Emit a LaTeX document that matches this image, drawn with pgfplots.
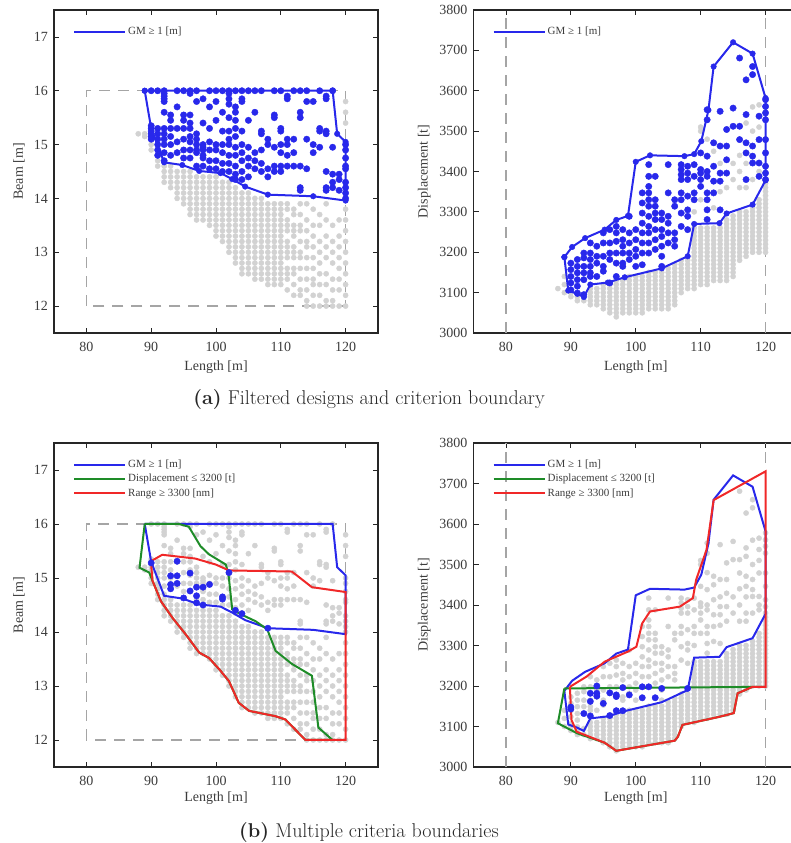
\documentclass[border=0pt]{standalone}
\usepackage{pgfplots}
\pgfplotsset{compat=1.18}
\usepackage{pgfplotstable}
\usepackage{fontspec}
\newfontfamily\tnr{Liberation Serif}
\definecolor{gm}{RGB}{40,40,235}
\definecolor{dispc}{RGB}{30,140,40}
\definecolor{rangec}{RGB}{240,40,40}
\definecolor{ptgray}{RGB}{210,210,210}
\definecolor{dashgray}{RGB}{165,165,165}
\definecolor{txt}{RGB}{60,60,60}

% ---------- Length / Beam ----------
\pgfplotstableread[row sep=\\]{L B\\
90 16\\90 15.35\\90 15.3\\90 15.25\\90 15.2\\90 15.15\\90 15.1\\
91 16\\91 15.3\\91 15.2\\91 15.1\\91 15.0\\91 14.9\\91 14.8\\
92 16\\92 15.95\\92 15.9\\92 15.85\\92 15.8\\92 15.6\\92 15.3\\92 15.2\\92 15.1\\92 15.0\\92 14.85\\92 14.7\\
93 15.55\\93 15.45\\93 15.3\\93 15.15\\93 15.0\\93 14.8\\
94 16\\94 15.7\\94 15.3\\94 15.05\\94 14.85\\
95 16\\95 15.55\\95 15.45\\95 15.3\\95 15.1\\95 14.9\\95 14.75\\
96 16\\96 15.95\\96 15.55\\96 15.4\\96 15.3\\96 15.15\\96 15.05\\96 14.9\\96 14.75\\
97 16\\97 15.8\\97 15.2\\97 15.1\\97 15.0\\97 14.9\\97 14.85\\97 14.6\\
98 15.85\\98 15.4\\98 15.0\\98 14.95\\98 14.9\\98 14.8\\98 14.75\\98 14.6\\
99 16\\99 15.7\\99 15.3\\99 15.05\\99 14.9\\99 14.7\\99 14.55\\
100 16\\100 15.8\\100 15.45\\100 15.0\\100 14.9\\100 14.7\\100 14.55\\
101 16\\101 15.6\\101 15.25\\101 15.0\\101 14.85\\101 14.65\\101 14.5\\
102 16\\102 15.95\\102 15.85\\102 15.75\\102 15.5\\102 15.25\\102 15.1\\102 15.0\\102 14.8\\102 14.65\\102 14.5\\
103 16\\103 15.7\\103 15.6\\103 15.45\\103 15.3\\103 15.15\\103 14.95\\103 14.8\\103 14.6\\103 14.45\\103 14.35\\
104 16\\104 15.85\\104 15.8\\104 15.25\\104 15.0\\104 14.85\\104 14.7\\104 14.5\\104 14.35\\
105 16\\105 15.45\\105 14.95\\105 14.75\\105 14.6\\105 14.4\\
106 16\\106 15.6\\106 14.85\\106 14.7\\106 14.55\\
107 16\\107 15.25\\107 15.2\\107 14.9\\107 14.65\\107 14.5\\
108 15.1\\108 15.0\\108 14.55\\108 14.4\\
109 16\\109 15.55\\109 15.5\\109 14.95\\109 14.6\\109 14.5\\
110 16\\110 15.3\\110 15.25\\110 15.0\\110 14.85\\110 14.6\\110 14.5\\
111 15.9\\111 15.85\\111 15.1\\111 15.0\\111 14.8\\111 14.6\\
112 16\\112 15.1\\112 14.85\\112 14.6\\
113 16\\113 15.6\\113 15.5\\113 14.6\\113 14.2\\113 14.15\\
114 16\\114 15.8\\114 15.1\\114 14.55\\
115 15.8\\115 15.0\\115 14.85\\
116 16\\116 15.3\\116 15.25\\116 14.95\\
117 15.9\\117 15.85\\117 15.25\\117 15.2\\117 14.5\\117 14.2\\117 14.15\\
118 16\\118 14.95\\118 14.45\\118 14.3\\118 14.2\\
119 14.45\\119 14.35\\119 14.15\\
120 15.0\\120 14.9\\120 14.75\\120 14.6\\120 14.55\\120 14.3\\120 14.2\\120 14.1\\120 14.0\\
}\tlblue

\pgfplotstableread[row sep=\\]{L B\\
88 15.2\\89 15.2\\89 15.15\\90 15.0\\90 14.9\\91 14.7\\91 14.6\\
92 14.6\\92 14.5\\92 14.4\\92 14.3\\
93 14.6\\93 14.5\\93 14.4\\93 14.3\\93 14.2\\
94 14.5\\94 14.4\\94 14.3\\94 14.2\\94 14.1\\94 14.0\\
95 14.5\\95 14.4\\95 14.3\\95 14.2\\95 14.1\\95 14.0\\95 13.9\\
96 14.5\\96 14.4\\96 14.3\\96 14.2\\96 14.1\\96 14.0\\96 13.9\\96 13.8\\96 13.7\\
97 14.4\\97 14.3\\97 14.2\\97 14.1\\97 14.0\\97 13.9\\97 13.8\\97 13.7\\97 13.6\\
98 14.4\\98 14.3\\98 14.2\\98 14.1\\98 14.0\\98 13.9\\98 13.8\\98 13.7\\98 13.6\\
99 14.4\\99 14.3\\99 14.2\\99 14.1\\99 14.0\\99 13.9\\99 13.8\\99 13.7\\99 13.6\\99 13.5\\
100 14.4\\100 14.3\\100 14.2\\100 14.1\\100 14.0\\100 13.9\\100 13.8\\100 13.7\\100 13.6\\100 13.5\\100 13.4\\100 13.3\\
101 14.3\\101 14.2\\101 14.1\\101 14.0\\101 13.9\\101 13.8\\101 13.7\\101 13.6\\101 13.5\\101 13.4\\101 13.3\\101 13.2\\
102 14.3\\102 14.2\\102 14.1\\102 14.0\\102 13.9\\102 13.8\\102 13.7\\102 13.6\\102 13.5\\102 13.4\\102 13.3\\102 13.2\\102 13.1\\102 13.0\\
103 14.2\\103 14.1\\103 14.0\\103 13.9\\103 13.8\\103 13.7\\103 13.6\\103 13.5\\103 13.4\\103 13.3\\103 13.2\\103 13.1\\103 13.0\\103 12.9\\103 12.8\\
104 14.1\\104 14.0\\104 13.9\\104 13.8\\104 13.7\\104 13.6\\104 13.5\\104 13.4\\104 13.3\\104 13.2\\104 13.1\\104 13.0\\104 12.9\\104 12.8\\104 12.7\\104 12.6\\
105 14.1\\105 14.0\\105 13.9\\105 13.8\\105 13.7\\105 13.6\\105 13.5\\105 13.4\\105 13.3\\105 13.2\\105 13.1\\105 13.0\\105 12.9\\105 12.8\\105 12.7\\105 12.6\\
106 14.0\\106 13.9\\106 13.8\\106 13.7\\106 13.6\\106 13.5\\106 13.4\\106 13.3\\106 13.2\\106 13.1\\106 13.0\\106 12.9\\106 12.8\\106 12.7\\106 12.6\\106 12.5\\
107 14.0\\107 13.9\\107 13.8\\107 13.7\\107 13.6\\107 13.5\\107 13.4\\107 13.3\\107 13.2\\107 13.1\\107 13.0\\107 12.9\\107 12.8\\107 12.7\\107 12.6\\107 12.5\\
108 13.9\\108 13.8\\108 13.7\\108 13.6\\108 13.5\\108 13.4\\108 13.3\\108 13.2\\108 13.1\\108 13.0\\108 12.9\\108 12.8\\108 12.7\\108 12.6\\108 12.5\\108 12.4\\
109 13.9\\109 13.8\\109 13.7\\109 13.6\\109 13.5\\109 13.4\\109 13.3\\109 13.2\\109 13.1\\109 13.0\\109 12.9\\109 12.8\\109 12.7\\109 12.6\\109 12.5\\109 12.4\\
110 13.9\\110 13.8\\110 13.7\\110 13.6\\110 13.5\\110 13.4\\110 13.3\\110 13.2\\110 13.1\\110 13.0\\110 12.9\\110 12.8\\110 12.7\\110 12.6\\110 12.5\\110 12.4\\
111 13.9\\111 13.8\\111 13.6\\111 13.5\\111 13.4\\111 13.2\\111 13.1\\111 13.0\\111 12.9\\111 12.7\\111 12.6\\111 12.5\\111 12.3\\
112 13.8\\112 13.7\\112 13.5\\112 13.4\\112 13.3\\112 13.1\\112 13.0\\112 12.9\\112 12.7\\112 12.6\\112 12.4\\112 12.2\\
113 13.9\\113 13.7\\113 13.5\\113 13.4\\113 13.2\\113 13.0\\113 12.9\\113 12.7\\113 12.5\\113 12.3\\113 12.2\\
114 13.9\\114 13.6\\114 13.4\\114 13.2\\114 13.1\\114 12.9\\114 12.7\\114 12.5\\114 12.3\\114 12.1\\114 12.0\\
115 13.8\\115 13.5\\115 13.3\\115 13.1\\115 12.9\\115 12.7\\115 12.5\\115 12.4\\115 12.2\\115 12.0\\
116 13.7\\116 13.5\\116 13.2\\116 13.0\\116 12.8\\116 12.6\\116 12.4\\116 12.2\\116 12.0\\
117 13.9\\117 13.6\\117 13.3\\117 13.1\\117 12.9\\117 12.6\\117 12.4\\117 12.1\\117 12.0\\
118 13.5\\118 13.2\\118 13.0\\118 12.8\\118 12.5\\118 12.3\\118 12.1\\118 12.0\\
119 13.6\\119 13.3\\119 13.1\\119 12.9\\119 12.7\\119 12.5\\119 12.3\\119 12.0\\
120 15.8\\120 15.6\\120 15.4\\120 13.8\\120 13.6\\120 13.4\\120 13.2\\120 13.0\\120 12.8\\120 12.6\\120 12.4\\120 12.2\\120 12.0\\
}\tlgray

\pgfplotstableread[row sep=\\]{L B\\
90 15.28\\94 15.31\\93 15.04\\94 15.04\\96 15.09\\93 14.88\\94 14.9\\93 14.8\\96 14.76\\97 14.83\\98 14.83\\99 14.88\\97 14.67\\95 14.63\\97 14.54\\98 14.5\\101 14.65\\101 14.61\\102 15.1\\103 14.4\\104 14.34\\108 14.07\\
}\blblue

\pgfplotstableread[row sep=\\]{L B\\
89 16\\118 16\\118.7 15.2\\120 15.05\\120 13.96\\115 14.04\\108 14.07\\104.5 14.22\\102.5 14.36\\100.7 14.47\\97.4 14.51\\94.8 14.62\\92 14.67\\90 15.3\\89 16\\
}\gmLB

\pgfplotstableread[row sep=\\]{L B\\
89 16\\94.3 16\\95.8 15.95\\97.6 15.59\\98.9 15.44\\101.5 15.25\\101.9 15.1\\102.5 14.42\\103.8 14.33\\106.1 14.2\\107.9 14.05\\109.2 13.65\\111.7 13.41\\114.8 13.19\\115.8 12.23\\117.6 12.04\\118 12\\113.8 12\\110.7 12.38\\109.2 12.44\\105.1 12.54\\103.5 12.69\\102 13.09\\100.5 13.31\\98.9 13.52\\97.4 13.62\\95.3 13.96\\93.3 14.26\\91.5 14.57\\90.2 14.95\\89.7 15.1\\88.2 15.19\\89 16\\
}\dispLB

\pgfplotstableread[row sep=\\]{L B\\
89.95 15.31\\91.7 15.43\\96.8 15.36\\99.95 15.25\\102 15.14\\111.7 15.12\\114.8 14.83\\120 14.74\\120 12\\113.8 12\\110.7 12.38\\109.2 12.44\\105.1 12.54\\103.5 12.69\\102 13.09\\100.5 13.31\\98.9 13.52\\97.4 13.62\\95.3 13.96\\93.3 14.26\\91.5 14.57\\90.2 14.95\\89.95 15.31\\
}\rangeLB

% ---------- Length / Displacement ----------
\pgfplotstableread[row sep=\\]{L D\\
90 3173\\90 3157\\90 3140\\90 3124\\90 3107\\
91 3182\\91 3165\\91 3149\\91 3132\\91 3116\\91 3099\\
92 3198\\92 3186\\92 3165\\92 3149\\92 3132\\92 3095\\
93 3223\\93 3198\\93 3182\\93 3165\\93 3149\\93 3140\\
94 3215\\94 3190\\94 3173\\94 3140\\
95 3248\\95 3223\\95 3190\\95 3165\\95 3153\\
96 3256\\96 3223\\96 3198\\96 3182\\96 3124\\
97 3264\\97 3248\\97 3227\\97 3198\\97 3173\\97 3140\\
98 3256\\98 3231\\98 3215\\98 3198\\98 3173\\98 3165\\
99 3289\\99 3248\\99 3223\\99 3198\\99 3182\\
100 3256\\100 3231\\100 3207\\100 3190\\100 3165\\
101 3347\\101 3322\\101 3297\\101 3272\\101 3248\\101 3223\\101 3198\\101 3169\\
102 3417\\102 3388\\102 3363\\102 3347\\102 3330\\102 3314\\102 3289\\102 3264\\102 3248\\102 3223\\102 3198\\
103 3388\\103 3330\\103 3314\\103 3297\\103 3281\\103 3256\\103 3231\\103 3207\\
104 3297\\104 3281\\104 3256\\104 3239\\104 3215\\104 3190\\104 3165\\
105 3417\\105 3347\\105 3289\\105 3272\\105 3248\\105 3223\\
106 3330\\106 3314\\106 3248\\106 3231\\106 3215\\
107 3417\\107 3405\\107 3392\\107 3380\\107 3347\\107 3330\\107 3297\\107 3264\\
108 3413\\108 3396\\108 3380\\108 3339\\108 3305\\108 3289\\108 3256\\
109 3417\\109 3388\\109 3347\\109 3330\\
110 3446\\110 3405\\110 3396\\110 3380\\110 3363\\
111 3553\\111 3528\\111 3438\\111 3400\\111 3388\\111 3347\\111 3330\\111 3305\\111 3281\\
112 3471\\112 3413\\112 3376\\112 3347\\
113 3549\\113 3463\\113 3396\\113 3376\\113 3305\\
114 3504\\114 3463\\114 3429\\114 3396\\
115 3557\\115 3512\\
116 3681\\116 3512\\116 3479\\
117 3627\\117 3541\\117 3471\\117 3446\\117 3380\\
118 3660\\118 3640\\118 3463\\118 3438\\118 3421\\
119 3537\\119 3479\\119 3421\\119 3388\\
120 3578\\120 3561\\120 3545\\120 3528\\120 3479\\120 3446\\120 3413\\120 3396\\120 3380\\
}\trblue

\pgfplotstableread[row sep=\\]{L D\\
88 3110\\89 3140\\89 3120\\89 3100\\90 3100\\90 3090\\91 3090\\91 3080\\92 3080\\
93 3110\\93 3100\\93 3090\\93 3080\\93 3070\\
94 3110\\94 3100\\94 3090\\94 3080\\94 3070\\
95 3120\\95 3110\\95 3100\\95 3090\\95 3080\\95 3070\\95 3060\\
96 3120\\96 3110\\96 3100\\96 3090\\96 3080\\96 3070\\96 3060\\96 3050\\
97 3130\\97 3120\\97 3110\\97 3100\\97 3090\\97 3080\\97 3070\\97 3060\\97 3050\\97 3040\\
98 3130\\98 3120\\98 3110\\98 3100\\98 3090\\98 3080\\98 3070\\98 3060\\98 3050\\
99 3140\\99 3130\\99 3120\\99 3110\\99 3100\\99 3090\\99 3080\\99 3070\\99 3060\\99 3050\\
100 3140\\100 3130\\100 3120\\100 3110\\100 3100\\100 3090\\100 3080\\100 3070\\100 3060\\100 3050\\
101 3140\\101 3130\\101 3120\\101 3110\\101 3100\\101 3090\\101 3080\\101 3070\\101 3060\\101 3050\\
102 3150\\102 3140\\102 3130\\102 3120\\102 3110\\102 3100\\102 3090\\102 3080\\102 3070\\102 3060\\
103 3150\\103 3140\\103 3130\\103 3120\\103 3110\\103 3100\\103 3090\\103 3080\\103 3070\\103 3060\\
104 3150\\104 3140\\104 3130\\104 3120\\104 3110\\104 3100\\104 3090\\104 3080\\104 3070\\104 3060\\
105 3160\\105 3150\\105 3140\\105 3130\\105 3120\\105 3110\\105 3100\\105 3090\\105 3080\\105 3070\\105 3060\\
106 3170\\106 3160\\106 3150\\106 3140\\106 3130\\106 3120\\106 3110\\106 3100\\106 3090\\106 3080\\106 3070\\
107 3180\\107 3170\\107 3160\\107 3150\\107 3140\\107 3130\\107 3120\\107 3110\\107 3100\\
108 3180\\108 3170\\108 3160\\108 3150\\108 3140\\108 3130\\108 3120\\108 3110\\
109 3260\\109 3250\\109 3240\\109 3230\\109 3220\\109 3210\\109 3200\\109 3190\\109 3180\\109 3170\\109 3160\\109 3150\\109 3140\\109 3130\\109 3120\\109 3110\\
110 3260\\110 3250\\110 3240\\110 3230\\110 3220\\110 3210\\110 3200\\110 3190\\110 3180\\110 3170\\110 3160\\110 3150\\110 3140\\110 3130\\110 3120\\
111 3260\\111 3250\\111 3240\\111 3230\\111 3220\\111 3210\\111 3200\\111 3190\\111 3180\\111 3170\\111 3160\\111 3150\\111 3140\\111 3130\\111 3120\\
112 3260\\112 3250\\112 3240\\112 3230\\112 3220\\112 3210\\112 3200\\112 3190\\112 3180\\112 3170\\112 3160\\112 3150\\112 3140\\112 3130\\
113 3260\\113 3250\\113 3240\\113 3230\\113 3220\\113 3210\\113 3200\\113 3190\\113 3180\\113 3170\\113 3160\\113 3150\\113 3140\\113 3130\\
114 3280\\114 3270\\114 3260\\114 3250\\114 3240\\114 3230\\114 3220\\114 3210\\114 3200\\114 3190\\114 3180\\114 3170\\114 3160\\114 3150\\114 3140\\114 3130\\
115 3290\\115 3280\\115 3270\\115 3260\\115 3250\\115 3240\\115 3230\\115 3220\\115 3210\\115 3200\\115 3190\\115 3180\\115 3170\\115 3160\\115 3150\\115 3140\\
116 3300\\116 3290\\116 3280\\116 3270\\116 3260\\116 3250\\116 3240\\116 3230\\116 3220\\116 3210\\116 3200\\116 3190\\116 3180\\
117 3300\\117 3290\\117 3280\\117 3270\\117 3260\\117 3250\\117 3240\\117 3230\\117 3220\\117 3210\\117 3200\\117 3190\\
118 3310\\118 3300\\118 3290\\118 3280\\118 3270\\118 3260\\118 3250\\118 3240\\118 3230\\118 3220\\118 3210\\118 3200\\
119 3330\\119 3320\\119 3310\\119 3300\\119 3290\\119 3280\\119 3270\\119 3260\\119 3250\\119 3240\\119 3230\\119 3220\\119 3210\\119 3200\\
120 3370\\120 3360\\120 3350\\120 3340\\120 3330\\120 3320\\120 3310\\120 3300\\120 3290\\120 3280\\120 3270\\120 3260\\120 3250\\120 3240\\120 3230\\120 3220\\120 3210\\120 3200\\
109 3300\\110 3330\\112 3310\\113 3420\\115 3380\\116 3440\\117 3360\\118 3380\\119 3400\\
110 3510\\110 3500\\111 3480\\112 3450\\113 3350\\114 3360\\115 3420\\116 3400\\117 3420\\118 3560\\119 3565\\119 3510\\116 3360\\118 3500\\117 3520\\
}\trgray

\pgfplotstableread[row sep=\\]{L D\\
90 3148\\90 3143\\92 3132\\93 3126\\93 3182\\93 3162\\94 3200\\94 3182\\94 3175\\95 3157\\96 3183\\96 3127\\97 3178\\97 3174\\97 3139\\98 3139\\98 3196\\99 3178\\101 3198\\101 3171\\102 3198\\103 3171\\104 3194\\108 3194\\
}\brblue

\pgfplotstableread[row sep=\\]{L D\\
89 3188\\89.6 3105\\91 3097\\92 3089\\93 3120\\95.7 3125\\98.3 3138\\104 3160\\108 3190\\109 3270\\112.9 3272\\114 3296\\118 3318\\120 3378\\120 3582\\118 3692\\115 3720\\112 3660\\111.2 3552\\110.1 3475\\109 3443\\107.5 3438\\102.2 3440\\100 3424\\98.8 3290\\97 3280\\95.2 3256\\92.2 3235\\90.2 3213\\89 3188\\
}\gmLD

\pgfplotstableread[row sep=\\]{L D\\
89 3194\\120 3198\\118 3198\\115.7 3182\\115.1 3133\\112.9 3124\\107.2 3104\\106.5 3075\\106 3065\\97 3040\\95.2 3060\\91 3083\\88 3108\\89 3194\\
}\dispLD

\pgfplotstableread[row sep=\\]{L D\\
89.85 3198\\92.4 3223\\95.2 3260\\98.8 3285\\100.1 3297\\101 3355\\102.2 3384\\106.8 3396\\108.8 3417\\109.3 3462\\110.9 3536\\112 3659\\120 3730\\120 3198\\118 3198\\115.7 3182\\115.1 3133\\112.9 3124\\107.2 3104\\106.5 3075\\106 3065\\97 3040\\95.2 3060\\90.9 3087\\90.1 3116\\89.85 3198\\
}\rangeLD

\pgfplotsset{
  base/.style={
    scale only axis, anchor=south west, clip marker paths=true,
    xmin=75, xmax=125, xtick={80,90,100,110,120},
    tick align=inside, major tick length=5pt,
    axis line style={line width=1.5pt, black!85},
    tick style={black!85, line width=0.8pt},
    /pgf/number format/assume math mode=true,
    /pgf/number format/1000 sep={},
    scaled ticks=false,
    ticklabel style={font=\tnr\fontsize{14}{16}\selectfont, text=txt},
    xticklabel style={anchor=center, yshift=-14pt},
    yticklabel style={anchor=east, inner sep=0pt, xshift=-6pt},
    label style={font=\tnr\fontsize{14}{16}\selectfont, text=txt},
    xlabel={Length [m]},
    legend style={draw=none, fill=none, at={(0,1)}, anchor=north west, xshift=16pt, yshift=-13pt,
      font=\tnr\fontsize{11}{12}\selectfont, text=txt, row sep=1pt, cells={anchor=west}},
    legend image code/.code={\draw[#1] (0pt,0pt) -- (51pt,0pt);},
  },
  gsc/.style={only marks, mark=*, mark size=2.6pt, color=ptgray, forget plot},
  bsc/.style={only marks, mark=*, mark size=3.2pt, color=gm, forget plot},
  vsc/.style={only marks, mark=*, mark size=2.8pt, color=gm, forget plot},
  dsh/.style={dashgray, line width=1.2pt, dash pattern=on 11pt off 8pt, forget plot},
  bnd/.style={line width=2pt},
}

\begin{document}
\begin{tikzpicture}[x=1pt,y=1pt]
\useasboundingbox (0,0) rectangle (790,843);

% (a) left
\begin{axis}[base, at={(54pt,510pt)}, width=324pt, height=323pt,
  ymin=11.5, ymax=17.5, ytick={12,13,14,15,16,17}, ylabel={Beam [m]},
  xlabel style={at={(axis description cs:0.5,-0.105)}, anchor=center},
  ylabel style={at={(axis description cs:-0.108,0.5)}, anchor=center}]
  \addplot[dsh] coordinates {(80,12)(80,16)(120,16)(120,12)(80,12)};
  \addplot[gsc] table[x=L,y=B] {\tlgray};
  \addplot[bsc] table[x=L,y=B] {\tlblue};
  \addplot[vsc] table[x=L,y=B] {\gmLB};
  \addplot[gm, bnd] table[x=L,y=B] {\gmLB};
  \addlegendentry{GM ≥ 1 [m]}
\end{axis}

% (a) right
\begin{axis}[base, at={(473.5pt,510pt)}, width=324.5pt, height=323pt,
  ymin=3000, ymax=3800, ytick={3000,3100,...,3800}, ylabel={Displacement [t]},
  xlabel style={at={(axis description cs:0.5,-0.105)}, anchor=center},
  ylabel style={at={(axis description cs:-0.1516,0.5)}, anchor=center}]
  \addplot[dsh] coordinates {(80,3000)(80,3800)};
  \addplot[dsh] coordinates {(120,3000)(120,3800)};
  \addplot[gsc] table[x=L,y=D] {\trgray};
  \addplot[bsc] table[x=L,y=D] {\trblue};
  \addplot[vsc] table[x=L,y=D] {\gmLD};
  \addplot[gm, bnd] table[x=L,y=D] {\gmLD};
  \addlegendentry{GM ≥ 1 [m]}
\end{axis}

% (b) left
\begin{axis}[base, at={(54pt,76pt)}, width=324pt, height=324pt,
  ymin=11.5, ymax=17.5, ytick={12,13,14,15,16,17}, ylabel={Beam [m]},
  xlabel style={at={(axis description cs:0.5,-0.096)}, anchor=center},
  ylabel style={at={(axis description cs:-0.108,0.5)}, anchor=center}]
  \addplot[dsh] coordinates {(80,12)(80,16)(120,16)(120,12)(80,12)};
  \addplot[gsc] table[x=L,y=B] {\tlgray};
  \addplot[gsc] table[x=L,y=B] {\tlblue};
  \addplot[gm, bnd] table[x=L,y=B] {\gmLB};
  \addlegendentry{GM ≥ 1 [m]}
  \addplot[dispc, bnd] table[x=L,y=B] {\dispLB};
  \addlegendentry{Displacement ≤ 3200 [t]}
  \addplot[rangec, bnd] table[x=L,y=B] {\rangeLB};
  \addlegendentry{Range ≥ 3300 [nm]}
  \addplot[bsc] table[x=L,y=B] {\blblue};
\end{axis}

% (b) right
\begin{axis}[base, at={(473.5pt,76pt)}, width=324.5pt, height=324pt,
  ymin=3000, ymax=3800, ytick={3000,3100,...,3800}, ylabel={Displacement [t]},
  xlabel style={at={(axis description cs:0.5,-0.096)}, anchor=center},
  ylabel style={at={(axis description cs:-0.1516,0.5)}, anchor=center}]
  \addplot[dsh] coordinates {(80,3000)(80,3800)};
  \addplot[dsh] coordinates {(120,3000)(120,3800)};
  \addplot[gsc] table[x=L,y=D] {\trgray};
  \addplot[gsc] table[x=L,y=D] {\trblue};
  \addplot[gm, bnd] table[x=L,y=D] {\gmLD};
  \addlegendentry{GM ≥ 1 [m]}
  \addplot[dispc, bnd] table[x=L,y=D] {\dispLD};
  \addlegendentry{Displacement ≤ 3200 [t]}
  \addplot[rangec, bnd] table[x=L,y=D] {\rangeLD};
  \addlegendentry{Range ≥ 3300 [nm]}
  \addplot[bsc] table[x=L,y=D] {\brblue};
\end{axis}

\node[font=\fontsize{20}{23}\selectfont, text=black!85] at (369,443) {\textbf{(a)} Filtered designs and criterion boundary};
\node[font=\fontsize{20}{23}\selectfont, text=black!85] at (369,10) {\textbf{(b)} Multiple criteria boundaries};
\end{tikzpicture}
\end{document}
